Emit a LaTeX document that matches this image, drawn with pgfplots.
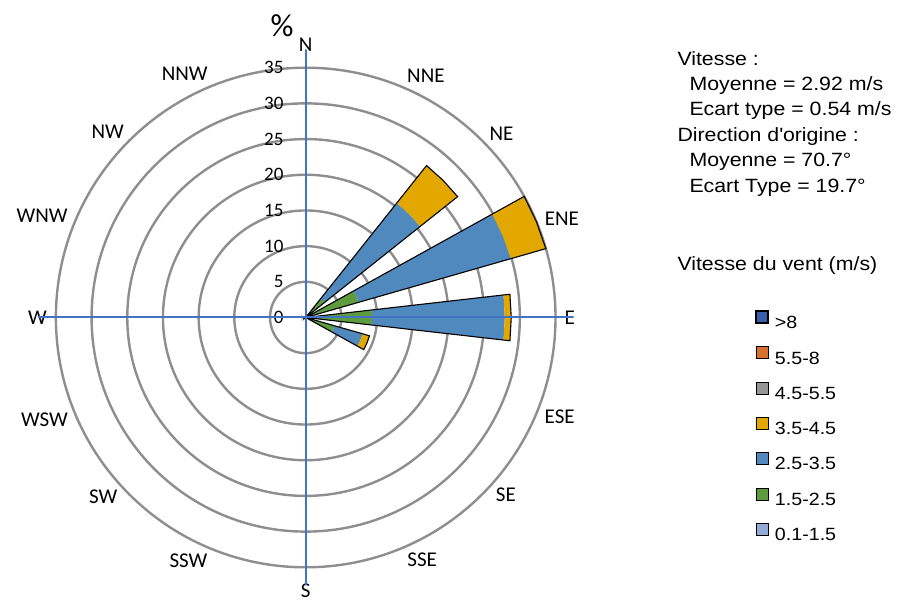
\documentclass[border=0pt]{standalone}
\usepackage{pgfplots}
\pgfplotsset{compat=1.18}
\usepgfplotslibrary{polar}
\usepackage{fontspec}
\setmainfont[FakeStretch=1.11]{Liberation Sans}
\newfontfamily\calibri{Carlito}

\definecolor{cgreen}{HTML}{5E9B3F}
\definecolor{cblue}{HTML}{4F89BD}
\definecolor{corange}{HTML}{E2A800}
\definecolor{cgray}{HTML}{959595}
\definecolor{cred}{HTML}{D8702E}
\definecolor{cdark}{HTML}{3760A8}
\definecolor{clight}{HTML}{93A9D6}
\definecolor{gridgray}{HTML}{8E8E8E}
\definecolor{axisblue}{HTML}{4472C4}

% one sector of the rose: compass direction (deg), inner and outer radius (%), style
\newcommand\sector[4]{%
  \pgfmathsetmacro\aL{450-#1-6.5}%
  \pgfmathsetmacro\aM{450-#1}%
  \pgfmathsetmacro\aR{450-#1+6.5}%
  \edef\temp{\noexpand\addplot[#4, forget plot] coordinates
    {(\aL,#2) (\aL,#3) (\aM,#3) (\aR,#3) (\aR,#2) (\aM,#2)} -- cycle;}%
  \temp}

\begin{document}
\begin{tikzpicture}
\useasboundingbox (0,0) rectangle (901pt,601pt);
\begin{polaraxis}[
    at={(305.7pt,283.5pt)}, anchor=origin,
    scale only axis, width=536pt, height=536pt,
    xmin=90, xmax=450, ymin=0, ymax=37.55,
    axis line style={draw=none},
    major tick length=0pt,
    xmajorgrids=false,
    xtick={90,270},
    xticklabels={N,S},
    xticklabel style={font=\calibri\fontsize{21}{21}\selectfont, inner sep=0pt, outer sep=-2pt},
    % label positions (math angles), nudged away from N-S as in the original
    extra x ticks={423.6,403.2,381.1,360,338.6,318.5,295.7,244.3,221.5,201.4,180,158.9,136.8,116.4},
    extra x tick labels={NNE,NE,ENE,E,ESE,SE,SSE,SSW,SW,WSW,W,WNW,NW,NNW},
    extra x tick style={grid=none, xticklabel style={outer sep=-9pt}},
    ytick={5,10,...,35},
    extra y ticks={0},
    extra y tick style={grid=none},
    ymajorgrids=true,
    major y grid style={gridgray, line width=2.4pt},
    yticklabel style={font=\calibri\fontsize{19}{19}\selectfont, anchor=east, inner sep=0pt, xshift=-22pt,
      /pgf/number format/assume math mode=true},
    legend style={at={(axis description cs:1.338,0.514)}, anchor=north west,
      draw=none, fill=none, inner sep=0pt, row sep=16.2pt,
      font=\fontsize{17.7}{17.7}\selectfont,
      nodes={inner sep=0pt}},
    legend cell align=left,
    legend image code/.code={\draw[#1] (0pt,0pt) rectangle (12pt,12pt); \path (17.7pt,0pt);},
]
% 1.5-2.5 m/s
\sector{45}{0}{3.4}{fill=cgreen, draw=none}
\sector{67.5}{0}{7.7}{fill=cgreen, draw=none}
\sector{90}{0}{9.3}{fill=cgreen, draw=none}
\sector{112.5}{0}{4.2}{fill=cgreen, draw=none}
% 2.5-3.5 m/s
\sector{45}{3.4}{20.5}{fill=cblue, draw=none}
\sector{67.5}{7.7}{29.9}{fill=cblue, draw=none}
\sector{90}{9.3}{27.9}{fill=cblue, draw=none}
\sector{112.5}{4.2}{8.3}{fill=cblue, draw=none}
% 3.5-4.5 m/s
\sector{45}{20.5}{27.2}{fill=corange, draw=none}
\sector{67.5}{29.9}{35.0}{fill=corange, draw=none}
\sector{90}{27.9}{28.8}{fill=corange, draw=none}
\sector{112.5}{8.3}{9.3}{fill=corange, draw=none}
% outline of the totals
\sector{45}{0}{27.2}{draw=black, line width=1.1pt, fill=none}
\sector{67.5}{0}{35.0}{draw=black, line width=1.1pt, fill=none}
\sector{90}{0}{28.8}{draw=black, line width=1.1pt, fill=none}
\sector{112.5}{0}{9.3}{draw=black, line width=1.1pt, fill=none}

\draw[axisblue, line width=2pt] (axis cs:90,37.55) -- (axis cs:270,37.55);
\draw[axisblue, line width=2pt] (axis cs:180,37.55) -- (axis cs:360,37.55);

\addlegendimage{fill=cdark, draw=black, line width=2.2pt}
\addlegendentry{>8}
\addlegendimage{fill=cred, draw=none}
\addlegendentry{5.5-8}
\addlegendimage{fill=cgray, draw=none}
\addlegendentry{4.5-5.5}
\addlegendimage{fill=corange, draw=none}
\addlegendentry{3.5-4.5}
\addlegendimage{fill=cblue, draw=none}
\addlegendentry{2.5-3.5}
\addlegendimage{fill=cgreen, draw=none}
\addlegendentry{1.5-2.5}
\addlegendimage{fill=clight, draw=none}
\addlegendentry{0.1-1.5}
\end{polaraxis}

\node[font=\calibri\fontsize{32}{32}\selectfont] at (282pt,575pt) {\%};

\begin{scope}[every node/.style={anchor=base west, inner sep=0pt, font=\fontsize{19.2}{19.2}\selectfont}]
\node at (677.3pt,535pt) {Vitesse :};
\node at (689.3pt,510pt) {Moyenne = 2.92 m/s};
\node at (689.3pt,485pt) {Ecart type = 0.54 m/s};
\node at (677.3pt,459pt) {Direction d\textquotesingle origine :};
\node at (689.3pt,434pt) {Moyenne = 70.7°};
\node at (689.3pt,408.5pt) {Ecart Type = 19.7°};
\node at (677.3pt,330pt) {Vitesse du vent (m/s)};
\end{scope}
\end{tikzpicture}
\end{document}
